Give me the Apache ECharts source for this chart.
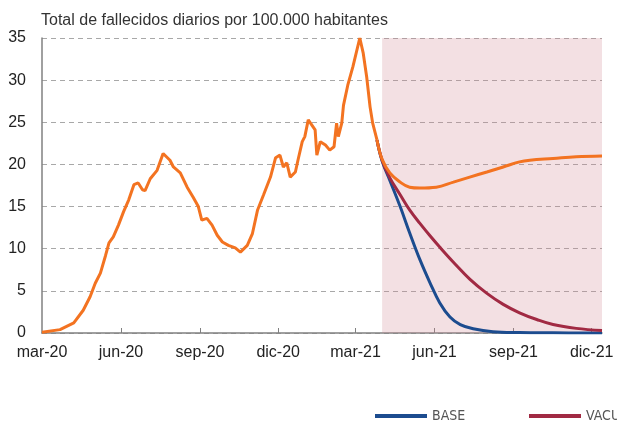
<!DOCTYPE html>
<html>
<head>
<meta charset="utf-8">
<script src="https://cdn.jsdelivr.net/npm/echarts@6/dist/echarts.min.js"></script>
<style>
  html, body { margin: 0; padding: 0; background: #fff; }
  #chart { width: 617px; height: 423px; }
</style>
</head>
<body>
<div id="chart"></div>
<script>
// datos
const histDates = ['2020-03-01','2020-03-22','2020-04-07','2020-04-18','2020-04-26','2020-05-02','2020-05-08','2020-05-14','2020-05-18','2020-05-23','2020-05-29','2020-06-04','2020-06-10','2020-06-16','2020-06-21','2020-06-26','2020-06-29','2020-07-05','2020-07-13','2020-07-20','2020-07-28','2020-08-01','2020-08-09','2020-08-17','2020-08-24','2020-08-30','2020-09-03','2020-09-09','2020-09-15','2020-09-21','2020-09-27','2020-10-04','2020-10-12','2020-10-18','2020-10-26','2020-11-01','2020-11-07','2020-11-14','2020-11-22','2020-11-28','2020-12-03','2020-12-07','2020-12-11','2020-12-15','2020-12-21','2020-12-24','2020-12-29','2021-01-01','2021-01-05','2021-01-09','2021-01-13','2021-01-15','2021-01-19','2021-01-25','2021-01-30','2021-02-04','2021-02-07','2021-02-09','2021-02-13','2021-02-15','2021-02-20','2021-02-26','2021-03-06','2021-03-10','2021-03-14','2021-03-18','2021-03-21','2021-03-26']
const histValues = [0.1,0.4,1.2,2.7,4.3,5.9,7.1,9.2,10.7,11.4,12.8,14.4,15.8,17.6,17.8,17.0,16.9,18.3,19.3,21.3,20.5,19.7,19.0,17.3,16.1,15.0,13.4,13.6,12.8,11.6,10.8,10.4,10.1,9.6,10.4,11.8,14.6,16.4,18.5,20.8,21.1,19.7,20.2,18.5,19.1,20.5,22.7,23.3,25.3,24.7,24.1,21.1,22.7,22.3,21.7,22.1,24.9,23.3,24.9,27.0,29.4,31.6,35.0,33.2,30.4,26.8,24.9,22.9]

const baseDates = ['2021-03-26','2021-04-01','2021-04-10','2021-04-22','2021-05-03','2021-05-15','2021-05-27','2021-06-07','2021-06-19','2021-07-01','2021-07-16','2021-08-08','2021-09-08','2021-10-17','2021-12-13']
const baseValues = [22.9,20.4,18.1,15.0,11.9,8.7,5.9,3.6,1.9,1.0,0.5,0.15,0.05,0.02,0.0]

const vacuDates = ['2021-03-26','2021-04-01','2021-04-10','2021-04-22','2021-05-03','2021-05-15','2021-05-27','2021-06-07','2021-06-23','2021-07-12','2021-08-01','2021-08-20','2021-09-08','2021-09-28','2021-10-17','2021-11-13','2021-12-13']
const vacuValues = [22.9,20.5,18.4,16.4,14.6,13.0,11.5,10.2,8.4,6.4,4.7,3.4,2.4,1.6,1.0,0.55,0.3]

const otherDates = ['2021-03-26','2021-04-01','2021-04-10','2021-04-22','2021-05-03','2021-05-15','2021-06-03','2021-06-23','2021-07-12','2021-08-01','2021-08-20','2021-09-08','2021-09-20','2021-10-17','2021-11-13','2021-12-13']
const otherValues = [22.9,20.6,19.0,17.9,17.3,17.2,17.3,17.9,18.5,19.1,19.7,20.3,20.5,20.7,20.9,21.0]

const xTickDates = ['2020-03-01','2020-06-01','2020-09-01','2020-12-01','2021-03-01','2021-06-01','2021-09-01','2021-12-01']
const xTickLabels = ['mar-20','jun-20','sep-20','dic-20','mar-21','jun-21','sep-21','dic-21']
const yTicks = [0, 5, 10, 15, 20, 25, 30, 35]

// días desde el 1 de marzo de 2020
const day = s => {
  const [y, m, d] = s.split('-').map(Number)
  return Math.round((Date.UTC(y, m - 1, d) - Date.UTC(2020, 2, 1)) / 86400000)
}
const pairs = (dates, vals) => dates.map((d, i) => [day(d), vals[i]])

const tickDays = xTickDates.map(day)
const labelFor = {}
tickDays.forEach((t, i) => { labelFor[t] = xTickLabels[i] })

const chart = echarts.init(document.getElementById('chart'))

const font = '"Liberation Sans", Arial, sans-serif'
const legendText = { color: '#555', fontSize: 14, fontFamily: '"DejaVu Sans Condensed", "Liberation Sans Narrow", "Liberation Sans", sans-serif' }

chart.setOption({
  animation: false,
  title: {
    text: 'Total de fallecidos diarios por 100.000 habitantes',
    left: 36, top: 8,
    textStyle: { fontSize: 16, fontWeight: 'normal', color: '#333', fontFamily: font }
  },
  grid: { left: 42, right: 15, top: 38, bottom: 90, containLabel: false },
  legend: [
    { data: ['BASE'], left: 375, top: 409, padding: 0, icon: 'rect', itemWidth: 52, itemHeight: 4, textStyle: legendText },
    { data: ['VACUNACIÓN'], left: 529, top: 409, padding: 0, icon: 'rect', itemWidth: 52, itemHeight: 4, textStyle: legendText }
  ],
  xAxis: {
    type: 'value',
    min: 0,
    max: day('2021-12-13'),
    axisLine: { lineStyle: { color: '#808080', width: 1.5 } },
    axisTick: { show: true, inside: true, length: 5, customValues: tickDays.slice(1), lineStyle: { color: '#808080' } },
    axisLabel: {
      customValues: tickDays,
      formatter: v => labelFor[v] || '',
      margin: 12,
      fontSize: 16,
      color: '#222',
      fontFamily: font
    },
    splitLine: { show: false }
  },
  yAxis: {
    type: 'value',
    min: yTicks[0],
    max: yTicks[yTicks.length - 1],
    interval: 5,
    axisLine: { show: true, lineStyle: { color: '#808080', width: 1.5 } },
    axisTick: { show: false },
    axisLabel: { margin: 16, fontSize: 16, color: '#222', fontFamily: font },
    splitLine: { lineStyle: { color: '#a8a8a8', type: [5, 4], width: 1 } }
  },
  series: [
    {
      name: 'BASE',
      type: 'line',
      data: pairs(baseDates, baseValues),
      smooth: 0.4,
      showSymbol: false,
      lineStyle: { width: 3, color: '#1c4c8f' },
      itemStyle: { color: '#1c4c8f' },
      markArea: {
        silent: true,
        itemStyle: { color: 'rgba(207,131,143,0.25)' },
        data: [[{ xAxis: day('2021-04-01') }, { xAxis: day('2021-12-13') }]]
      }
    },
    {
      name: 'VACUNACIÓN',
      type: 'line',
      data: pairs(vacuDates, vacuValues),
      smooth: 0.4,
      showSymbol: false,
      lineStyle: { width: 3, color: '#a12a43' },
      itemStyle: { color: '#a12a43' }
    },
    {
      name: 'OBSERVADO',
      type: 'line',
      data: pairs(histDates, histValues),
      showSymbol: false,
      lineStyle: { width: 3, color: '#f37321' },
      itemStyle: { color: '#f37321' }
    },
    {
      name: 'OBSERVADO',
      type: 'line',
      data: pairs(otherDates, otherValues),
      smooth: 0.4,
      showSymbol: false,
      lineStyle: { width: 3, color: '#f37321' },
      itemStyle: { color: '#f37321' }
    }
  ]
})
</script>
</body>
</html>
